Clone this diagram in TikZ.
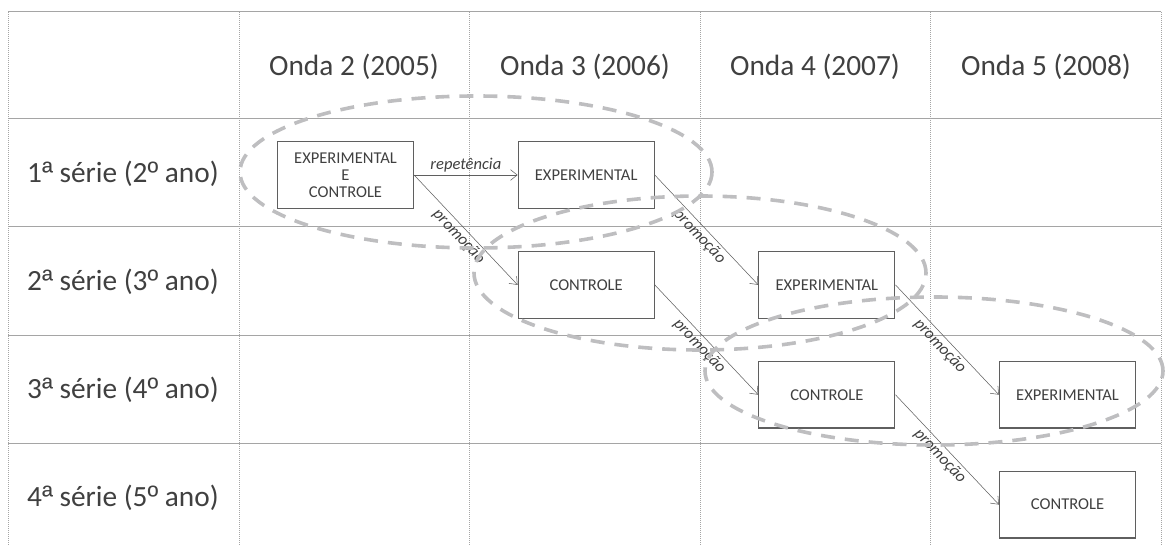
\documentclass[tikz,border=0pt]{standalone}
\usepackage{fontspec}
\setmainfont{Carlito}
\newfontfamily\ordfont{Liberation Sans}
\newcommand{\ordch}[1]{{\ordfont #1}}
\usepackage{xcolor}
\usepackage{tikz}
\usetikzlibrary{positioning,arrows.meta}
\definecolor{gridgray}{RGB}{165,165,165}
\definecolor{boxgray}{RGB}{95,95,95}
\definecolor{txtgray}{RGB}{64,64,64}
\definecolor{ringgray}{RGB}{190,190,192}

\begin{document}
\begin{tikzpicture}[
x=0.75pt,y=-0.75pt,
node distance=31.5pt and 77.6pt,
grp/.style={draw=boxgray,line width=0.9pt,minimum width=102pt,minimum height=50pt,align=center,inner sep=1pt,text=txtgray,font=\fontsize{12.4}{12.8}\selectfont},
head/.style={text=txtgray,font=\fontsize{22}{26}\selectfont},
lbl/.style={text=txtgray,inner sep=2pt,font=\fontsize{12.4}{14}\selectfont\itshape},
ring/.style={draw=ringgray,line width=2.7pt,dash pattern=on 10.5pt off 7.5pt},
rule/.style={draw=gridgray,line width=0.75pt},
sep/.style={draw=gridgray,line width=0.75pt,dash pattern=on 0.75pt off 0.75pt},
>={Straight Barb[length=5pt,width=8pt]}
]
\useasboundingbox (0,0) rectangle (1167,545);

% table
\draw[rule] (8,12) -- (1161,12);
\draw[rule] (8,119) -- (1161,119);
\draw[rule] (8,227) -- (1161,227);
\draw[rule] (8,335) -- (1161,335);
\draw[rule] (8,443) -- (1161,443);
\draw[sep] (8,12) -- (8,545);
\draw[sep] (239,12) -- (239,545);
\draw[sep] (469,12) -- (469,545);
\draw[sep] (700,12) -- (700,545);
\draw[sep] (930,12) -- (930,545);
\draw[sep] (1161,12) -- (1161,545);

\node[head] (h1) at (354,67) {Onda 2 (2005)};
\node[head] (h2) at (585,67) {Onda 3 (2006)};
\node[head] (h3) at (815,67) {Onda 4 (2007)};
\node[head] (h4) at (1046,67) {Onda 5 (2008)};
\node[head] (r1) at (123,174) {1\ordch{ª} série (2\ordch{º} ano)};
\node[head] (r2) at (123,282) {2\ordch{ª} série (3\ordch{º} ano)};
\node[head] (r3) at (123,390) {3\ordch{ª} série (4\ordch{º} ano)};
\node[head] (r4) at (123,498) {4\ordch{ª} série (5\ordch{º} ano)};

% turmas
\node[grp] (a) at (345.5,175) {EXPERIMENTAL\\E\\CONTROLE};
\node[grp,right=of a] (b) {EXPERIMENTAL};
\node[grp,below=of b] (c) {CONTROLE};
\node[grp,right=of c] (d) {EXPERIMENTAL};
\node[grp,below=of d] (e) {CONTROLE};
\node[grp,right=of e] (f) {EXPERIMENTAL};
\node[grp,below=of f] (g) {CONTROLE};

\draw[->,boxgray] (a.east) -- node[lbl,above] {repetência} (b.west);
\draw[->,boxgray] (a.east) -- node[lbl,below,sloped] {promoção} (c.west);
\draw[->,boxgray] (b.east) -- node[lbl,below,sloped] {promoção} (d.west);
\draw[->,boxgray] (c.east) -- node[lbl,below,sloped] {promoção} (e.west);
\draw[->,boxgray] (d.east) -- node[lbl,below,sloped] {promoção} (f.west);
\draw[->,boxgray] (e.east) -- node[lbl,below,sloped] {promoção} (g.west);

% grupos
\draw[ring] (476,172) ellipse [x radius=177pt,y radius=57pt];
\draw[ring] (700,273) ellipse [x radius=169.5pt,y radius=57.75pt];
\draw[ring] (934,371) ellipse [x radius=171.75pt,y radius=55.5pt];
\end{tikzpicture}
\end{document}
